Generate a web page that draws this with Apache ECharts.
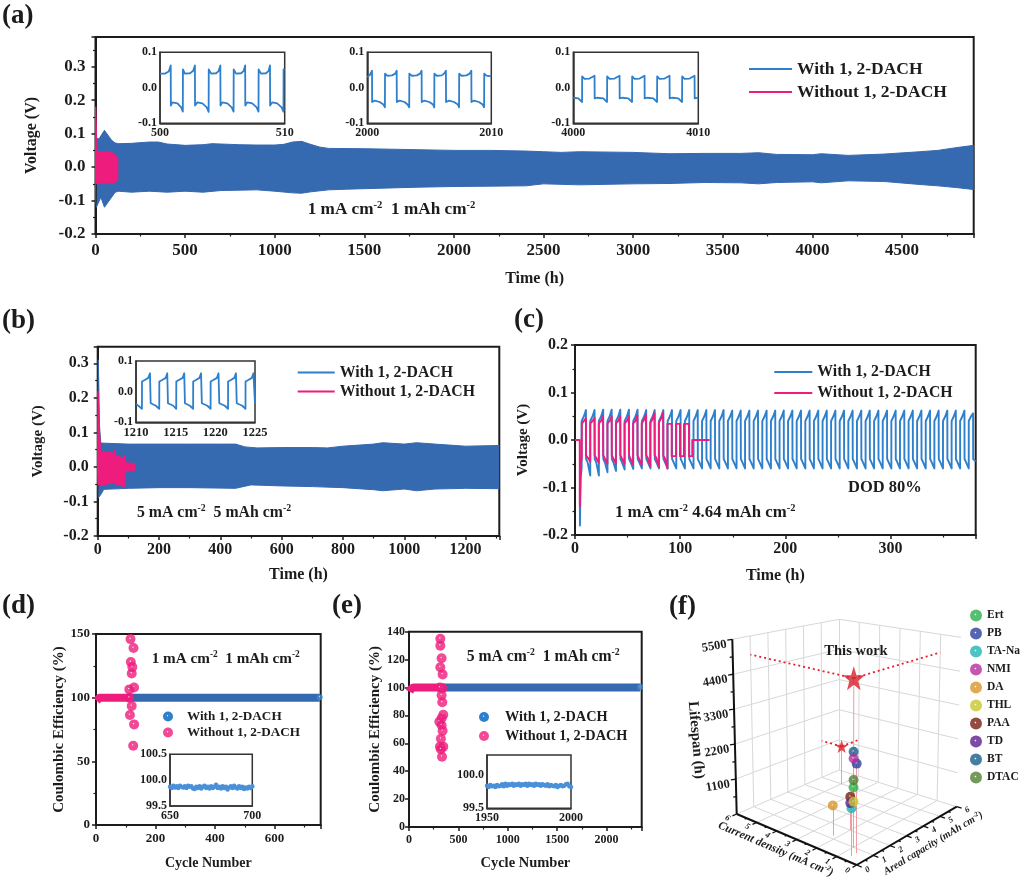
<!DOCTYPE html>
<html><head><meta charset="utf-8"><style>html,body{margin:0;padding:0;background:#fff}#c{width:1024px;height:883px}</style>
<script src="https://cdn.jsdelivr.net/npm/echarts@6/dist/echarts.min.js"></script></head><body><div id="c"></div><script>
const WITH='With 1, 2-DACH', WITHOUT='Without 1, 2-DACH';
// (a) envelopes [time h, voltage V]
const aWithUpper=[[0,0],[2,.06],[5,.085],[20,.085],[30,.09],[50,.11],[70,.095],[90,.08],[110,.072],[130,.07],[200,.071],[300,.075],[350,.075],[400,.069],[500,.065],[600,.067],[650,.07],[700,.069],[800,.067],[900,.066],[1000,.066],[1050,.068],[1100,.075],[1150,.077],[1200,.068],[1250,.06],[1300,.056],[1500,.055],[1800,.052],[2000,.05],[2200,.05],[2400,.048],[2500,.046],[2600,.044],[2700,.046],[3000,.044],[3200,.04],[3400,.041],[3600,.041],[3700,.043],[3800,.038],[4000,.037],[4050,.04],[4200,.035],[4400,.039],[4600,.046],[4700,.05],[4800,.058],[4900,.065]];
const aWithLower=[[0,0],[2,-.1],[5,-.12],[15,-.12],[30,-.09],[50,-.12],[70,-.105],[90,-.09],[110,-.075],[130,-.072],[200,-.075],[300,-.072],[400,-.075],[500,-.072],[600,-.075],[700,-.07],[800,-.069],[900,-.068],[1000,-.072],[1100,-.077],[1150,-.078],[1200,-.074],[1300,-.068],[1400,-.066],[1600,-.063],[1800,-.06],[2000,-.058],[2200,-.057],[2400,-.056],[2500,-.05],[2700,-.053],[3000,-.05],[3200,-.049],[3400,-.046],[3600,-.047],[3700,-.05],[3800,-.046],[4000,-.044],[4050,-.047],[4200,-.041],[4400,-.043],[4600,-.052],[4700,-.056],[4800,-.061],[4900,-.067]];
const aWithoutUpper=[[0,0],[1,.18],[6,.18],[8,.06],[12,.046],[60,.047],[85,.046],[100,.04],[124,.03],[125,0]];
const aWithoutLower=[[0,0],[2,-.05],[60,-.048],[90,-.048],[110,-.045],[124,-.04],[125,0]];
const aInset1=[[500,.04],[500.4,.04],[500.7,.046],[500.86,.063],[500.87,-.05],[501,-.041],[501.4,-.044],[501.7,-.055],[501.83,-.067],[501.84,.052],[502,.04],[502.4,.041],[502.65,.047],[502.8,.063],[502.81,-.05],[503,-.041],[503.4,-.044],[503.75,-.055],[503.9,-.068],[503.91,.052],[504.1,.04],[504.5,.041],[504.7,.047],[504.84,.063],[504.85,-.05],[505,-.041],[505.4,-.044],[505.75,-.055],[505.9,-.067],[505.91,.052],[506.1,.04],[506.5,.041],[506.7,.047],[506.83,.063],[506.84,-.05],[507,-.041],[507.4,-.044],[507.75,-.055],[507.9,-.067],[507.91,.052],[508.1,.04],[508.5,.041],[508.7,.047],[508.82,.063],[508.83,-.05],[509,-.041],[509.4,-.044],[509.75,-.055],[509.9,-.067],[509.91,.052],[510,.05]];
const aInset2=[[2000,.03],[2000.2,.036],[2000.38,.048],[2000.39,-.04],[2000.6,-.036],[2001,-.04],[2001.3,-.047],[2001.42,-.055],[2001.43,.04],[2001.6,.034],[2002,.035],[2002.25,.04],[2002.37,.048],[2002.38,-.04],[2002.6,-.036],[2003,-.04],[2003.25,-.047],[2003.38,-.055],[2003.39,.04],[2003.6,.034],[2004,.035],[2004.25,.04],[2004.38,.048],[2004.39,-.04],[2004.6,-.036],[2005,-.04],[2005.3,-.047],[2005.4,-.055],[2005.41,.04],[2005.6,.034],[2006,.035],[2006.2,.04],[2006.34,.048],[2006.35,-.04],[2006.6,-.036],[2007,-.04],[2007.3,-.047],[2007.4,-.055],[2007.41,.04],[2007.6,.034],[2008,.035],[2008.25,.04],[2008.39,.048],[2008.4,-.04],[2008.6,-.036],[2009,-.04],[2009.3,-.047],[2009.42,-.055],[2009.43,.04],[2009.6,.034],[2010,.032]];
const aInset3=[[4000,-.028],[4000.4,-.03],[4000.7,-.04],[4000.71,.032],[4000.9,.025],[4001.3,.026],[4001.7,.034],[4001.71,-.03],[4001.9,-.028],[4002.4,-.03],[4002.7,-.04],[4002.71,.032],[4002.9,.025],[4003.3,.026],[4003.7,.034],[4003.71,-.03],[4003.9,-.028],[4004.4,-.03],[4004.7,-.04],[4004.71,.032],[4004.9,.025],[4005.3,.026],[4005.7,.034],[4005.71,-.03],[4005.9,-.028],[4006.4,-.03],[4006.7,-.04],[4006.71,.032],[4006.9,.025],[4007.3,.026],[4007.7,.034],[4007.71,-.03],[4007.9,-.028],[4008.4,-.03],[4008.7,-.04],[4008.71,.032],[4008.9,.025],[4009.3,.026],[4009.7,.034],[4009.71,-.03],[4010,-.028]];
// (b)
const bWithUpper=[[0,0],[2,.31],[5,.31],[6,.12],[10,.069],[100,.066],[200,.066],[300,.066],[400,.066],[450,.066],[480,.058],[520,.055],[600,.056],[700,.056],[750,.055],[800,.06],[900,.066],[930,.07],[1000,.066],[1040,.07],[1100,.066],[1200,.06],[1310,.062]];
const bWithLower=[[0,0],[2,-.09],[10,-.08],[20,-.065],[100,-.062],[200,-.06],[300,-.06],[450,-.062],[500,-.052],[600,-.055],[700,-.057],[800,-.06],[900,-.066],[930,-.069],[1000,-.064],[1040,-.069],[1100,-.064],[1200,-.062],[1310,-.063]];
const bWithoutUpper=[[0,0],[1,.22],[5,.22],[6,.1],[10,.045],[30,.043],[50,.04],[55,.048],[60,.03],[70,.03],[85,.025],[88,.035],[92,.012],[120,.01],[122,0]];
const bWithoutLower=[[0,0],[1,-.05],[10,-.055],[30,-.05],[50,-.045],[60,-.05],[80,-.055],[88,-.06],[90,-.012],[120,-.01],[122,0]];
const bInset=[[1210,-.04],[1210.75,-.056],[1210.76,.033],[1211.1,.038],[1211.55,.045],[1211.76,.06],[1211.85,-.038],[1212.5,-.046],[1212.93,-.056],[1212.94,.033],[1213.3,.038],[1213.75,.045],[1213.94,.06],[1214.03,-.038],[1214.7,-.046],[1215.07,-.056],[1215.08,.033],[1215.4,.038],[1215.88,.045],[1216.08,.06],[1216.17,-.038],[1216.8,-.046],[1217.2,-.056],[1217.21,.033],[1217.55,.038],[1218,.045],[1218.2,.06],[1218.3,-.038],[1219,-.046],[1219.4,-.056],[1219.41,.033],[1219.75,.038],[1220.2,.045],[1220.4,.06],[1220.5,-.038],[1221.2,-.046],[1221.6,-.056],[1221.61,.033],[1221.95,.038],[1222.4,.045],[1222.6,.06],[1222.7,-.038],[1223.4,-.046],[1223.8,-.056],[1223.81,.033],[1224.15,.038],[1224.6,.045],[1224.8,.06],[1225,-.04]];
// (c)
const cWith=[[4.6,-.1],[4.7,-.18],[5.2,-.18],[5.4,-.08],[6.3,-.06],[6.3,.04],[8.5,.05],[10.4,.063],[10.5,-.04],[12,-.047],[14.5,-.075],
[14.5,.04],[16.7,.05],[18.6,.063],[18.7,-.04],[20.2,-.047],[22.7,-.075],
[22.7,.04],[24.9,.05],[26.8,.064],[26.9,-.04],[28.4,-.047],[30.9,-.068],
[30.9,.04],[33,.05],[34.9,.064],[35,-.04],[36.5,-.047],[39,-.065],
[39,.04],[41.2,.05],[43.1,.064],[43.2,-.04],[44.7,-.047],[47.2,-.062],
[47.2,.04],[49.4,.05],[51.3,.064],[51.4,-.04],[52.9,-.047],[55.4,-.061],
[55.4,.04],[57.6,.05],[59.5,.064],[59.6,-.04],[61.1,-.047],[63.6,-.06],
[63.6,.04],[65.8,.05],[67.7,.063],[67.8,-.04],[69.3,-.047],[71.8,-.06],
[71.8,.04],[73.9,.05],[75.8,.063],[75.9,-.04],[77.4,-.047],[79.9,-.06],
[79.9,.04],[82.1,.05],[84,.063],[84.1,-.04],[85.6,-.047],[88.1,-.06],
[88.1,.04],[90.3,.05],[92.2,.063],[92.3,-.04],[93.8,-.047],[96.3,-.06],
[96.3,.04],[98.5,.05],[100.4,.063],[100.5,-.04],[102,-.047],[104.5,-.06],
[104.5,.04],[106.7,.05],[108.6,.063],[108.7,-.04],[110.2,-.047],[112.7,-.06],
[112.7,.04],[114.8,.05],[116.7,.063],[116.8,-.04],[118.3,-.047],[120.8,-.06],
[120.8,.04],[123,.05],[124.9,.063],[125,-.04],[126.5,-.047],[129,-.06],
[129,.04],[131.2,.05],[133.1,.063],[133.2,-.04],[134.7,-.047],[137.2,-.06],
[137.2,.04],[139.4,.05],[141.3,.063],[141.4,-.04],[142.9,-.047],[145.4,-.06],
[145.4,.04],[147.6,.05],[149.5,.062],[149.6,-.04],[151.1,-.047],[153.6,-.06],
[153.6,.04],[155.7,.05],[157.6,.062],[157.7,-.04],[159.2,-.047],[161.7,-.06],
[161.7,.04],[163.9,.05],[165.8,.062],[165.9,-.04],[167.4,-.047],[169.9,-.06],
[169.9,.04],[172.1,.05],[174,.062],[174.1,-.04],[175.6,-.047],[178.1,-.06],
[178.1,.04],[180.3,.05],[182.2,.062],[182.3,-.04],[183.8,-.047],[186.3,-.06],
[186.3,.04],[188.5,.05],[190.4,.062],[190.5,-.04],[192,-.047],[194.5,-.06],
[194.5,.04],[196.6,.05],[198.5,.062],[198.6,-.04],[200.1,-.047],[202.6,-.06],
[202.6,.04],[204.8,.05],[206.7,.062],[206.8,-.04],[208.3,-.047],[210.8,-.06],
[210.8,.04],[213,.05],[214.9,.062],[215,-.04],[216.5,-.047],[219,-.06],
[219,.04],[221.2,.05],[223.1,.062],[223.2,-.04],[224.7,-.047],[227.2,-.06],
[227.2,.04],[229.4,.05],[231.3,.062],[231.4,-.04],[232.9,-.047],[235.4,-.06],
[235.4,.04],[237.5,.05],[239.4,.062],[239.5,-.04],[241,-.047],[243.5,-.06],
[243.5,.04],[245.7,.05],[247.6,.062],[247.7,-.04],[249.2,-.047],[251.7,-.06],
[251.7,.04],[253.9,.05],[255.8,.062],[255.9,-.04],[257.4,-.047],[259.9,-.06],
[259.9,.04],[262.1,.05],[264,.062],[264.1,-.04],[265.6,-.047],[268.1,-.06],
[268.1,.04],[270.3,.05],[272.2,.062],[272.3,-.04],[273.8,-.047],[276.3,-.06],
[276.3,.04],[278.4,.05],[280.3,.062],[280.4,-.04],[281.9,-.047],[284.4,-.06],
[284.4,.04],[286.6,.05],[288.5,.062],[288.6,-.04],[290.1,-.047],[292.6,-.06],
[292.6,.04],[294.8,.05],[296.7,.062],[296.8,-.04],[298.3,-.047],[300.8,-.06],
[300.8,.04],[303,.05],[304.9,.062],[305,-.04],[306.5,-.047],[309,-.06],
[309,.04],[311.2,.05],[313.1,.062],[313.2,-.04],[314.7,-.047],[317.2,-.06],
[317.2,.04],[319.3,.05],[321.2,.062],[321.3,-.04],[322.8,-.047],[325.3,-.06],
[325.3,.04],[327.5,.05],[329.4,.062],[329.5,-.04],[331,-.047],[333.5,-.06],
[333.5,.04],[335.7,.05],[337.6,.062],[337.7,-.04],[339.2,-.047],[341.7,-.06],
[341.7,.04],[343.9,.05],[345.8,.062],[345.9,-.04],[347.4,-.047],[349.9,-.06],
[349.9,.04],[352.1,.05],[354,.062],[354.1,-.04],[355.6,-.047],[358.1,-.06],
[358.1,.04],[360.2,.05],[362.1,.062],[362.2,-.04],[363.7,-.047],[366.2,-.06],
[366.2,.04],[368.4,.05],[370.3,.062],[370.4,-.04],[371.9,-.047],[374.4,-.06],
[374.4,.04],[376.6,.05],[378.5,.056],[378.6,-.04],[381,-.045]];
const cWithout=[[0,0],[4.5,0],[4.6,-.14],[5.1,-.14],[5.4,-.05],[6.4,-.04],[6.5,.035],[8.5,.04],[10.4,.046],[10.5,-.032],[12,-.036],[14.5,-.045],
[14.5,.035],[16.7,.04],[18.6,.047],[18.7,-.032],[20.2,-.036],[22.6,-.048],
[22.6,.035],[24.8,.04],[26.7,.05],[26.8,-.032],[28.3,-.036],[30.8,-.05],
[30.8,.035],[33,.04],[34.9,.05],[35,-.032],[36.5,-.036],[38.9,-.05],
[38.9,.035],[41.1,.04],[43,.05],[43.1,-.032],[44.6,-.036],[47.1,-.05],
[47.1,.035],[49.3,.04],[51.2,.05],[51.3,-.032],[52.8,-.036],[55.2,-.052],
[55.2,.035],[57.4,.04],[59.3,.052],[59.4,-.032],[60.9,-.036],[63.4,-.053],
[63.4,.035],[65.6,.042],[67.5,.053],[67.6,-.032],[69.1,-.037],[71.5,-.055],
[71.5,.036],[73.7,.043],[75.6,.056],[75.7,-.032],[77.2,-.037],[79.7,-.057],
[79.7,.037],[81.9,.045],[83.8,.058],[83.9,-.033],[85.4,-.038],[87.8,-.06],
[87.8,.034],[91.9,.034],[91.9,-.034],[96,-.034],[96,.034],[99.8,.034],[99.8,-.034],[103.6,-.034],[103.6,.034],[108.4,.034],[108.4,-.034],[111.5,-.034],[111.5,0],[128,0]];
// (d)
const dWithBand=[[120,100],[200,100],[300,100],[400,100],[500,100],[600,100],[700,100],[752,100]];
const dWithEnd=[[752,100.4]];
const dWithoutBand=[[2,97.5],[5,99],[12,100],[60,100],[120,100]];
const dWithoutScatter=[[116,146],[126,139],[117,128],[122,124],[120,119],[128,108],[112,106.5],[112,100],[120,93.5],[114,86.4],[128,79],[125,62.3]];
const dInsetX=[650,651,652,653,654,655,656,657,658,659,660,661,662,663,664,665,666,667,668,669,670,671,672,673,674,675,676,677,678,679,680,681,682,683,684,685,686,687,688,689,690,691,692,693,694,695,696,697,698,699,700];
const dInsetY=[99.87,99.85,99.89,99.86,99.88,99.85,99.89,99.87,99.86,99.88,99.85,99.89,99.87,99.88,99.84,99.83,99.87,99.85,99.88,99.84,99.87,99.89,99.85,99.87,99.84,99.88,99.85,99.87,99.91,99.85,99.87,99.84,99.88,99.85,99.87,99.82,99.86,99.88,99.85,99.89,99.86,99.84,99.88,99.85,99.87,99.83,99.86,99.84,99.87,99.85,99.88];
// (e)
const eWithBand=[[330,100],[600,100],[900,100],[1200,100],[1500,100],[1800,100],[2100,100],[2340,100]];
const eWithEnd=[[2340,100.4]];
const eWithoutBand=[[6,97],[20,99],[45,100],[150,100],[320,100]];
const eWithoutScatter=[[317,135],[317,130],[330,121],[317,114.5],[340,109.4],[340,99.4],[313,100],[330,94.4],[337,89.4],[347,80.5],[330,78],[307,75.5],[330,73],[340,69],[323,63.3],[313,57.6],[347,57.6],[323,55.7],[334,50.4]];
const eInsetX=[1950,1951,1952,1953,1954,1955,1956,1957,1958,1959,1960,1961,1962,1963,1964,1965,1966,1967,1968,1969,1970,1971,1972,1973,1974,1975,1976,1977,1978,1979,1980,1981,1982,1983,1984,1985,1986,1987,1988,1989,1990,1991,1992,1993,1994,1995,1996,1997,1998,1999,2000];
const eInsetY=[99.84,99.82,99.85,99.83,99.84,99.82,99.85,99.83,99.84,99.86,99.83,99.87,99.84,99.86,99.85,99.87,99.84,99.86,99.85,99.87,99.84,99.86,99.85,99.87,99.84,99.87,99.85,99.86,99.84,99.87,99.85,99.86,99.84,99.86,99.85,99.84,99.86,99.83,99.85,99.84,99.83,99.85,99.82,99.84,99.85,99.83,99.84,99.86,99.87,99.83,99.82];
// (f)
const fNames=['Ert','PB','TA-Na','NMI','DA','THL','PAA','TD','BT','DTAC'];
const fCurrent=[1,.6,.6,1,2.2,1,2,2,1,1];
const fCapacity=[1,.7,.4,1,1.2,1,2,2,1,1];
const fLifespan=[1733,2560,1360,2570,900,1315,1010,820,2767,1945];
const fColors=['#2DB04A','#2B3F9E','#1FB5B5','#B52E9E','#D9952B','#C9C72B','#7A1F10','#5B1F8F','#155F8A','#4F8232'];
const fDrawOrder=[4,6,3,9,2,7,1,5,8,10];
const fStarCurrent=[1,5], fStarCapacity=[1,5], fStarLifespan=[4900,1300];
const fLifeTicks=[1100,2200,3300,4400,5500];
const fUnitTicks=[0,1,2,3,4,5,6];

const FONT='"Liberation Serif","Times New Roman",serif', INK='#1c1c1c', BLUE='#3569B0', PINK='#EE1C7C', LINE='#2E7FCC';
const grid=[],xAxis=[],yAxis=[],series=[],legend=[],graphic=[];
function panel(o){
  const i=grid.length;
  grid.push({left:o.l,top:o.t,width:o.r-o.l,height:o.b-o.t,show:true,borderColor:o.inset?'#333':'#1c1c1c',borderWidth:o.inset?1.5:2,backgroundColor:o.inset?'#fff':'transparent',z:o.inset?5:2});
  const mk=(a,isX)=>({type:'value',gridIndex:i,min:a.min,max:a.max,interval:a.int,z:o.inset?6:3,
    name:a.name||'',nameLocation:'middle',nameGap:a.gap,nameTextStyle:{fontFamily:FONT,fontWeight:'bold',fontSize:a.nameSize,color:INK},
    axisLine:{onZero:false,show:true,lineStyle:{color:o.inset?'#333':'#1c1c1c',width:o.inset?1.5:2}},
    splitLine:{show:false},minorSplitLine:{show:false},
    axisTick:{show:!o.inset,length:4,lineStyle:{color:'#1c1c1c',width:1.5}},
    minorTick:{show:!!a.minor,splitNumber:2,length:2.5,lineStyle:{color:'#1c1c1c',width:1.2}},
    axisLabel:{fontFamily:FONT,fontWeight:'bold',fontSize:a.size,color:INK,margin:a.margin==null?6:a.margin,showMaxLabel:!!a.maxLabel,showMinLabel:true,hideOverlap:false,
      formatter:a.fmt?(v=>v.toFixed(a.fmt)):(v=>String(v))}});
  xAxis.push(mk(o.x,true));yAxis.push(mk(o.y,false));
  return i;
}
function line(i,name,data,color,w,z){series.push({type:'line',name,xAxisIndex:i,yAxisIndex:i,data,symbol:'none',silent:true,animation:false,z:z||3,lineStyle:{color,width:w||1.5,cap:'butt',join:'round'},itemStyle:{color},clip:true});}
function band(i,name,upper,lower,color,z){
  [[name,upper],[name+' lower',lower]].forEach(([n,d])=>series.push({type:'line',name:n,xAxisIndex:i,yAxisIndex:i,data:d,symbol:'none',silent:true,animation:false,z:z,lineStyle:{color,width:1,join:'round'},itemStyle:{color},areaStyle:{color,opacity:1,origin:0}}));
}
function sphere(c){return {type:'radial',x:.45,y:.42,r:.55,colorStops:[{offset:0,color:'#ffffff'},{offset:.2,color:c},{offset:1,color:c}]};}
function scat(i,name,data,color,size,z){series.push({type:'scatter',name,xAxisIndex:i,yAxisIndex:i,data,symbol:'circle',symbolSize:size,silent:true,animation:false,z:z||4,itemStyle:{color:sphere(color)},clip:false});}
function zip(x,y){return x.map((v,k)=>[v,y[k]]);}
function legendLines(tag,left,top,size,gap,w){
  legend.push({show:true,selectedMode:false,orient:'vertical',left,top,padding:0,itemGap:gap,itemWidth:w,itemHeight:12,
    formatter:n=>n.split('|')[1],textStyle:{fontFamily:FONT,fontWeight:'bold',fontSize:size,color:INK},
    data:[{name:tag+'|'+WITH,lineStyle:{color:LINE,width:2},itemStyle:{opacity:0}},{name:tag+'|'+WITHOUT,lineStyle:{color:PINK,width:2},itemStyle:{opacity:0}}]});
}
function txt(x,y,text,size,o){o=o||{};
  const rs=size*.62;
  graphic.push({type:'text',x,y,rotation:(o.rot||0)*Math.PI/180,z:50,silent:true,style:{text,fontFamily:FONT,fontWeight:o.weight||'bold',fontStyle:o.italic?'italic':'normal',fontSize:size,fill:INK,align:o.align||'left',verticalAlign:'middle',
    rich:{s:{fontFamily:FONT,fontWeight:'bold',fontStyle:o.italic?'italic':'normal',fontSize:rs,fill:INK,verticalAlign:'top',lineHeight:size*1.15}}}});
}
// ---------- (a)
let p=panel({l:95.5,r:973.7,t:37,b:234,x:{min:0,max:4900,int:500,minor:true,size:17,name:'Time (h)',gap:37,nameSize:16,margin:8},y:{min:-.2,max:.389,int:.1,minor:true,size:17,fmt:1,margin:10,name:'Voltage (V)',gap:56,nameSize:16}});
band(p,'a|'+WITH,aWithUpper,aWithLower,BLUE,3);band(p,'a|'+WITHOUT,aWithoutUpper,aWithoutLower,PINK,4);
legendLines('a',748,60,17.5,5,43);
[[160,284.7,500,510,aInset1],[367.3,491.3,2000,2010,aInset2],[573.3,698.3,4000,4010,aInset3]].forEach(r=>{
  const q=panel({inset:true,l:r[0],r:r[1],t:52.3,b:123.3,x:{min:r[2],max:r[3],int:10,size:12,maxLabel:true,margin:4},y:{min:-.1,max:.1,int:.1,size:12,fmt:1,maxLabel:true,margin:3}});
  line(q,'inset',r[4],LINE,1.8,8);
});
txt(307.7,210,'1 mA cm{s|-2}  1 mAh cm{s|-2}',17.2);
// ---------- (b)
p=panel({l:97.7,r:499.3,t:346.7,b:536,x:{min:0,max:1310,int:200,minor:true,size:16,name:'Time (h)',gap:31,nameSize:16,margin:6},y:{min:-.2,max:.348,int:.1,minor:true,size:16,fmt:1,margin:9,name:'Voltage (V)',gap:52,nameSize:15}});
band(p,'b|'+WITH,bWithUpper,bWithLower,BLUE,3);band(p,'b|'+WITHOUT,bWithoutUpper,bWithoutLower,PINK,4);
legendLines('b',296.7,364.5,15.8,3,37);
let q=panel({inset:true,l:136,r:255,t:361,b:422.3,x:{min:1210,max:1225,int:5,size:12.5,maxLabel:true,margin:4},y:{min:-.1,max:.1,int:.1,size:12,fmt:1,maxLabel:true,margin:3}});
line(q,'inset',bInset,LINE,1.8,8);
txt(137,512.7,'5 mA cm{s|-2}  5 mAh cm{s|-2}',15.8);
// ---------- (c)
p=panel({l:575,r:975.7,t:345,b:535,x:{min:0,max:381,int:100,minor:true,size:16,name:'Time (h)',gap:33,nameSize:16,margin:6},y:{min:-.2,max:.2,int:.1,minor:true,size:16,fmt:1,maxLabel:true,margin:7,name:'Voltage (V)',gap:44,nameSize:15}});
line(p,'c|'+WITH,cWith,LINE,1.9,3);line(p,'c|'+WITHOUT,cWithout,PINK,1.9,4);
legendLines('c',773.3,364,15.8,5,38);
txt(615,512.7,'1 mA cm{s|-2} 4.64 mAh cm{s|-2}',16.8);
txt(848,488,'DOD 80%',16.5);
// ---------- (d)
p=panel({l:96,r:320.7,t:634,b:825,x:{min:0,max:755,int:200,minor:true,size:13,name:'Cycle Number',gap:31,nameSize:14,margin:7},y:{min:0,max:150,int:50,minor:true,size:13,maxLabel:true,name:'Coulombic Efficiency (%)',gap:28,nameSize:15}});
line(p,'d|'+WITH,dWithBand,BLUE,8,3);line(p,'d band',dWithoutBand,PINK,8,4);
scat(p,'d|'+WITH+' end',dWithEnd,'#3F8AD6',6,4);
scat(p,'d|'+WITHOUT,dWithoutScatter,PINK,10,5);
legend.push({show:true,selectedMode:false,orient:'vertical',left:163,top:710,padding:0,itemGap:3,itemWidth:10,itemHeight:10,formatter:n=>n.split('|')[1],textStyle:{fontFamily:FONT,fontWeight:'bold',fontSize:13.2,color:INK,padding:[0,0,0,9]},data:[{name:'d|'+WITH,icon:'circle',itemStyle:{color:sphere('#2E7FCC')}},{name:'d|'+WITHOUT,icon:'circle',itemStyle:{color:sphere(PINK)}}]});
q=panel({inset:true,l:170,r:252.3,t:754.3,b:806,x:{min:650,max:700,int:50,size:12,maxLabel:true,margin:4},y:{min:99.5,max:100.5,int:.5,size:12,fmt:1,maxLabel:true,margin:3}});
series.push({type:'line',name:'inset',xAxisIndex:q,yAxisIndex:q,data:zip(dInsetX,dInsetY),symbol:'circle',symbolSize:4.5,showSymbol:true,showAllSymbols:true,silent:true,animation:false,z:8,lineStyle:{color:'#4A90D9',width:1.5},itemStyle:{color:'#4A90D9'}});
txt(151.7,659,'1 mA cm{s|-2}  1 mAh cm{s|-2}',15.2);
// ---------- (e)
p=panel({l:409,r:641.7,t:631.7,b:827,x:{min:0,max:2355,int:500,minor:true,size:12,name:'Cycle Number',gap:29,nameSize:14.5,margin:7},y:{min:0,max:140,int:20,size:12,maxLabel:true,margin:4,name:'Coulombic Efficiency (%)',gap:24,nameSize:15}});
line(p,'e|'+WITH,eWithBand,BLUE,8,3);line(p,'e band',eWithoutBand,PINK,8,4);
scat(p,'e|'+WITH+' end',eWithEnd,'#3F8AD6',6,4);
scat(p,'e|'+WITHOUT,eWithoutScatter,PINK,10,5);
legend.push({show:true,selectedMode:false,orient:'vertical',left:479,top:710,padding:0,itemGap:5,itemWidth:10,itemHeight:10,formatter:n=>n.split('|')[1],textStyle:{fontFamily:FONT,fontWeight:'bold',fontSize:14.3,color:INK,padding:[0,0,0,11]},data:[{name:'e|'+WITH,icon:'circle',itemStyle:{color:sphere('#2E7FCC')}},{name:'e|'+WITHOUT,icon:'circle',itemStyle:{color:sphere(PINK)}}]});
q=panel({inset:true,l:487,r:571,t:755,b:808.3,x:{min:1950,max:2000,int:50,size:12,maxLabel:true,margin:4},y:{min:99.5,max:100.3,int:.5,size:12,fmt:1,margin:3}});
series.push({type:'line',name:'inset',xAxisIndex:q,yAxisIndex:q,data:zip(eInsetX,eInsetY),symbol:'circle',symbolSize:4.5,showSymbol:true,showAllSymbols:true,silent:true,animation:false,z:8,lineStyle:{color:'#4A90D9',width:1.5},itemStyle:{color:'#4A90D9'}});
txt(466.7,656.7,'5 mA cm{s|-2}  1 mAh cm{s|-2}',15.7);
// ---------- (f) projected 3D box on a hidden page-sized cartesian grid
const C={F:[856.7,865],L:[736.7,814],R:[956.7,806.7],B:[839,770],FT:[857.3,666.7],LT:[732.3,639.3],RT:[961,637.3],BT:[839,619.3]};
function proj(c,a,h){const u=c/6,v=a/6,w=h/5500,o=[];
  for(let d=0;d<2;d++){
    const bot=C.F[d]*(1-u)*(1-v)+C.L[d]*u*(1-v)+C.R[d]*(1-u)*v+C.B[d]*u*v;
    const top=C.FT[d]*(1-u)*(1-v)+C.LT[d]*u*(1-v)+C.RT[d]*(1-u)*v+C.BT[d]*u*v;
    o.push(bot+(top-bot)*w);
  }
  return o;}
const fi=grid.length;
grid.push({left:0,top:0,width:1024,height:883,show:false});
xAxis.push({type:'value',gridIndex:fi,min:0,max:1024,show:false});
yAxis.push({type:'value',gridIndex:fi,min:0,max:883,inverse:true,show:false});
const wire=[],black=[],stems=[],dots=[];
const seg=(list,a,b,style)=>list.push(style?{coords:[a,b],lineStyle:style}:{coords:[a,b]});
fUnitTicks.forEach(k=>{
  if(k>0&&k<6){seg(wire,proj(k,0,0),proj(k,6,0));seg(wire,proj(0,k,0),proj(6,k,0));}
  if(k>0){seg(wire,proj(6,k,0),proj(6,k,5500));seg(wire,proj(k,6,0),proj(k,6,5500));}
});
fLifeTicks.forEach(h=>{seg(wire,proj(6,0,h),proj(6,6,h));seg(wire,proj(0,6,h),proj(6,6,h));});
seg(wire,proj(6,6,0),proj(6,0,0));seg(wire,proj(6,6,0),proj(0,6,0));
seg(black,proj(6,0,0),proj(6,0,5500));seg(black,proj(6,0,0),proj(0,0,0));seg(black,proj(0,0,0),proj(0,6,0));
const tickStyle={color:'#111',width:1.3};
[550,1100,1650,2200,2750,3300,3850,4400,4950,5500].forEach((h,k)=>{const a=proj(6,0,h);seg(black,a,[a[0]-(k%2?5:3),a[1]+(k%2?.8:.5)],tickStyle);});
[0,.5,1,1.5,2,2.5,3,3.5,4,4.5,5,5.5,6].forEach((t,k)=>{const s=k%2?.12:.25;seg(black,proj(t,0,0),proj(t,-s,0),tickStyle);seg(black,proj(0,t,0),proj(-s,t,0),tickStyle);});
fNames.forEach((n,k)=>seg(stems,proj(fCurrent[k],fCapacity[k],0),proj(fCurrent[k],fCapacity[k],fLifespan[k])));
fStarLifespan.forEach((h,k)=>{const c=fStarCurrent[k],a=fStarCapacity[k];
  seg(stems,proj(c,a,0),proj(c,a,h));
  seg(dots,proj(c,a,h),proj(6,a,h));seg(dots,proj(c,a,h),proj(c,6,h));});
const lines=(data,style,z)=>series.push({type:'lines',coordinateSystem:'cartesian2d',xAxisIndex:fi,yAxisIndex:fi,data,silent:true,animation:false,z,lineStyle:style,polyline:false,clip:false,effect:{show:false}});
lines(wire,{color:'#d8d8d8',width:1,opacity:1},2);
lines(black,{color:'#111',width:2,opacity:1},3);
lines(stems,{color:'#F49AA0',width:1,opacity:1},4);
lines(dots,{color:'#EE1C2E',width:1.8,type:[2,3],opacity:1},5);
const STAR='path://M0,-10L2.35,-3.24L9.51,-3.09L3.8,1.24L5.88,8.09L0,4L-5.88,8.09L-3.8,1.24L-9.51,-3.09L-2.35,-3.24Z';
fStarLifespan.forEach((h,k)=>series.push({type:'scatter',name:'star'+k,xAxisIndex:fi,yAxisIndex:fi,data:[proj(fStarCurrent[k],fStarCapacity[k],h)],symbol:STAR,symbolSize:k?[13,13]:[22,24],silent:true,animation:false,clip:false,z:20,itemStyle:{color:'#D6202A'}}));
fNames.forEach((n,k)=>series.push({type:'scatter',name:n,xAxisIndex:fi,yAxisIndex:fi,data:[proj(fCurrent[k],fCapacity[k],fLifespan[k])],symbol:'circle',symbolSize:10,silent:true,animation:false,clip:false,z:10+fDrawOrder[k],itemStyle:{color:sphere(fColors[k])}}));
legend.push({show:true,selectedMode:false,orient:'vertical',left:970,top:609.5,padding:0,itemGap:6,itemWidth:12,itemHeight:14,textStyle:{fontFamily:FONT,fontWeight:'bold',fontSize:11.5,color:INK},data:fNames.map(n=>({name:n,icon:'circle'}))});
fLifeTicks.forEach(h=>{const a=proj(6,0,h);txt(a[0]-18,a[1]+7,String(h),12.5,{align:'center',rot:10});});
fUnitTicks.forEach(t=>{let a=proj(t,-.55,0);txt(a[0],a[1],String(t),8.5,{align:'center',rot:-30,italic:true});a=proj(-.55,t,0);txt(a[0],a[1],String(t),8.5,{align:'center',rot:32,italic:true});});
txt(696,740,'Lifespan (h)',15,{align:'center',rot:-85});
txt(775.7,849.3,'Current density (mA cm{s|-2})',11.5,{align:'center',rot:-23,italic:true});
txt(933.3,843.3,'Areal capacity (mAh cm{s|-2})',10.5,{align:'center',rot:31,italic:true});
txt(856,651.7,'This work',14.5,{align:'center'});
// panel letters
[['(a)',2,16],['(b)',2,321],['(c)',514,320],['(d)',2,606],['(e)',332,606],['(f)',669,607]].forEach(r=>txt(r[1],r[2],r[0],27));

const chart=echarts.init(document.getElementById('c'),null,{renderer:'canvas',width:1024,height:883});
chart.setOption({animation:false,backgroundColor:'#fff',grid,xAxis,yAxis,series,legend,graphic:{elements:graphic},tooltip:{show:false}});
</script></body></html>
